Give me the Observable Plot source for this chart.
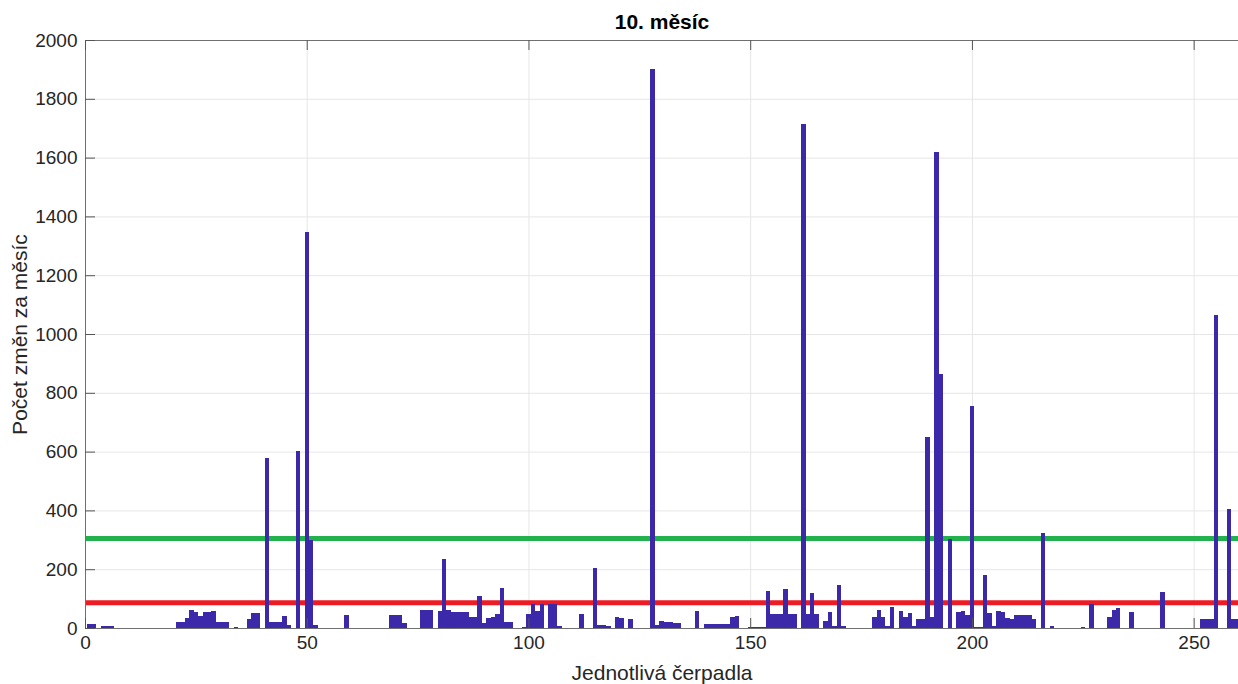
<!DOCTYPE html>
<html>
<head>
<meta charset="utf-8">
<script src="https://cdn.jsdelivr.net/npm/d3@7"></script>
<script src="https://cdn.jsdelivr.net/npm/@observablehq/plot@0.6"></script>
<style>
  body { margin: 0; background: #fff; }
  #chart svg { display: block; }
</style>
</head>
<body>
<div id="chart"></div>
<script>
// Number of state changes per pump during the month (pump 1 … 260)
const counts = [
  15, 15, 0, 8, 8, 7, 0, 0, 0, 0,            // 1–10
  0, 0, 0, 0, 0, 0, 0, 0, 0, 0,              // 11–20
  22, 22, 35, 61, 55, 40, 55, 55, 58, 20,    // 21–30
  20, 20, 0, 5, 0, 0, 30, 50, 50, 0,         // 31–40
  578, 22, 22, 20, 42, 9, 0, 602, 0, 1347,   // 41–50
  298, 10, 0, 0, 0, 0, 0, 0, 43, 0,          // 51–60
  0, 0, 0, 0, 0, 0, 0, 0, 44, 44,            // 61–70
  44, 17, 0, 0, 0, 60, 61, 61, 0, 58,        // 71–80
  233, 60, 53, 53, 56, 56, 36, 36, 109, 16,  // 81–90
  33, 36, 47, 137, 19, 19, 0, 0, 5, 48,      // 91–100
  82, 59, 82, 0, 82, 82, 7, 0, 0, 0,         // 101–110
  0, 49, 0, 0, 204, 9, 9, 8, 0, 36,          // 111–120
  34, 0, 29, 0, 0, 0, 0, 1901, 10, 25,       // 121–130
  19, 22, 18, 16, 0, 0, 0, 58, 0, 15,        // 131–140
  15, 15, 15, 15, 15, 36, 42, 0, 0, 4,       // 141–150
  4, 4, 4, 126, 46, 46, 46, 131, 46, 46,     // 151–160
  0, 1714, 46, 118, 46, 0, 24, 53, 7, 146,   // 161–170
  7, 0, 0, 0, 0, 0, 0, 38, 61, 38,           // 171–180
  7, 72, 0, 58, 36, 50, 7, 30, 30, 650,      // 181–190
  37, 1620, 865, 0, 303, 0, 53, 57, 45, 755, // 191–200
  5, 3, 180, 52, 7, 57, 53, 35, 30, 44,      // 201–210
  44, 44, 44, 32, 0, 322, 0, 6, 0, 0,        // 211–220
  0, 0, 0, 0, 5, 0, 82, 0, 0, 0,             // 221–230
  38, 61, 69, 0, 0, 55, 0, 0, 0, 0,          // 231–240
  0, 0, 124, 0, 0, 0, 0, 0, 0, 0,            // 241–250
  0, 30, 30, 30, 1065, 0, 0, 405, 30, 30     // 251–260
];

// Threshold levels
const upperLimit = 306;
const lowerLimit = 88;

// Axis ticks and texts
const xTicks = [0, 50, 100, 150, 200, 250];
const yTicks = [0, 200, 400, 600, 800, 1000, 1200, 1400, 1600, 1800, 2000];
const titleText = "10. měsíc";
const xLabelText = "Jednotlivá čerpadla";
const yLabelText = "Počet změn za měsíc";

const bars = counts
  .map((count, k) => ({pump: k + 1, count}))
  .filter(d => d.count > 0);

const W = 1238, H = 684;
const mL = 85, mR = 0, mT = 40, mB = 56;
const frameW = W - mL - mR, frameH = H - mT - mB;
const tickLen = 10;
const axisColor = "#262626";
const barColor = "#3c29a9";
const font = "'Liberation Sans', Arial, Helvetica, sans-serif";

const chart = Plot.plot({
  width: W,
  height: H,
  marginLeft: mL,
  marginRight: mR,
  marginTop: mT,
  marginBottom: mB,
  x: {domain: [0, 260]},
  y: {domain: [0, 2000]},
  style: {fontFamily: font, fontSize: "19px", color: axisColor, background: "#fff"},
  marks: [
    Plot.gridX(xTicks, {stroke: "#e6e6e6", strokeOpacity: 1}),
    Plot.gridY(yTicks, {stroke: "#e6e6e6", strokeOpacity: 1}),
    Plot.ruleY([upperLimit], {stroke: "#22b14c", strokeWidth: 5}),
    Plot.ruleY([lowerLimit], {stroke: "#ed1c24", strokeWidth: 5}),
    // adjacent bars drawn with crisp edges so neighbours merge without seams
    Plot.rectY(bars, {
      x1: d => d.pump - 0.5,
      x2: d => d.pump + 0.5,
      y: "count",
      fill: barColor,
      shapeRendering: "crispEdges",
      clip: true
    }),
    // axis box lines
    Plot.ruleX([0], {stroke: "#707070"}),
    Plot.ruleY([0, 2000], {stroke: "#707070"}),
    // inward tick marks
    Plot.tickX(xTicks, {x: d => d, stroke: "#555", insetTop: frameH - tickLen}),
    Plot.tickX(xTicks, {x: d => d, stroke: "#555", insetBottom: frameH - tickLen}),
    Plot.tickY(yTicks, {y: d => d, stroke: "#555", insetRight: frameW - tickLen}),
    // tick labels
    Plot.axisX({ticks: xTicks, tickSize: 0, tickPadding: 7, label: null, fontSize: 19, tickFormat: d => String(d)}),
    Plot.axisY({ticks: yTicks, tickSize: 0, tickPadding: 8, label: null, fontSize: 19, tickFormat: d => String(d)}),
    // title and axis titles
    Plot.text([titleText], {
      text: d => d, frameAnchor: "top", dy: -18, lineAnchor: "middle",
      fontSize: 21, fontWeight: "bold", fill: "#000"
    }),
    Plot.text([xLabelText], {
      text: d => d, frameAnchor: "bottom", dy: 45, lineAnchor: "middle",
      fontSize: 21, fill: axisColor
    }),
    Plot.text([yLabelText], {
      text: d => d, frameAnchor: "left", dx: -65, rotate: -90,
      textAnchor: "middle", lineAnchor: "middle",
      fontSize: 21, fill: axisColor
    })
  ]
});

document.getElementById("chart").appendChild(chart);
</script>
</body>
</html>
